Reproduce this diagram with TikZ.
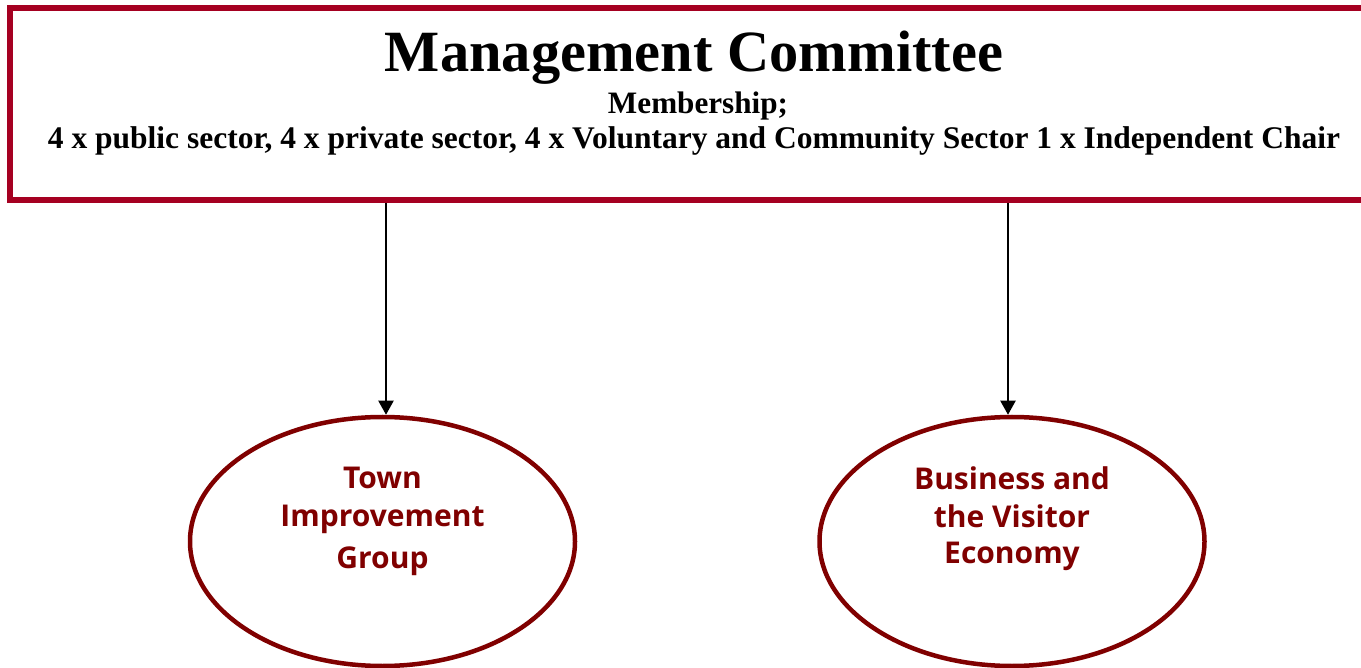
\documentclass[tikz,border=0pt]{standalone}
\usepackage{fontspec}
\usepackage{graphicx}
\setmainfont{Liberation Serif}
\newfontfamily\ellfont{Open Sans}
\usetikzlibrary{arrows.meta,shapes.geometric}
\definecolor{boxred}{RGB}{165,0,33}
\definecolor{ellred}{RGB}{128,0,0}
\begin{document}
\begin{tikzpicture}[x=1pt,y=-1pt,
  hdr/.style={inner sep=0pt, anchor=base, font=\bfseries},
  ellbox/.style={ellipse, draw=ellred, line width=4.5pt, minimum width=385pt, minimum height=249pt, inner sep=0pt},
  elltext/.style={inner sep=0pt, anchor=base, text=ellred, font=\ellfont\bfseries\fontsize{30}{30}\selectfont},
  conn/.style={line width=2pt, -{Triangle[width=15pt,length=14pt]}}]
\clip (0,0) rectangle (1361,668);
\fill[white] (0,0) rectangle (1361,668);
% top box
\node[draw=boxred, line width=6pt, minimum width=1360pt, minimum height=192pt, inner sep=0pt] (mc) at (690,104) {};
\node[hdr] (title) at (694,72) {\resizebox{618pt}{!}{\fontsize{58}{58}\selectfont Management Committee}};
\node[hdr] (memb) at (698,114) {\resizebox{180pt}{!}{\fontsize{25}{25}\selectfont Membership;}};
\node[hdr] (members) at (694,149) {\resizebox{1292pt}{!}{\fontsize{25}{25}\selectfont 4 x public sector, 4 x private sector, 4 x Voluntary and Community Sector 1 x Independent Chair}};
% ellipses
\node[ellbox] (e1) at (382.5,541.5) {};
\node[ellbox] (e2) at (1012,541.5) {};
\node[elltext] (t1a) at (382.5,488) {Town};
\node[elltext] (t1b) at (382.5,526) {Improvement};
\node[elltext] (t1c) at (382.5,568) {Group};
\node[elltext] (t2a) at (1012,489) {Business and};
\node[elltext] (t2b) at (1012,527) {the Visitor};
\node[elltext] (t2c) at (1012,563) {Economy};
% connectors
\coordinate (x1) at (386,0);
\coordinate (x2) at (1008,0);
\draw[conn] (mc.south -| x1) -- (e1.north -| x1);
\draw[conn] (mc.south -| x2) -- (e2.north -| x2);
\end{tikzpicture}
\end{document}
